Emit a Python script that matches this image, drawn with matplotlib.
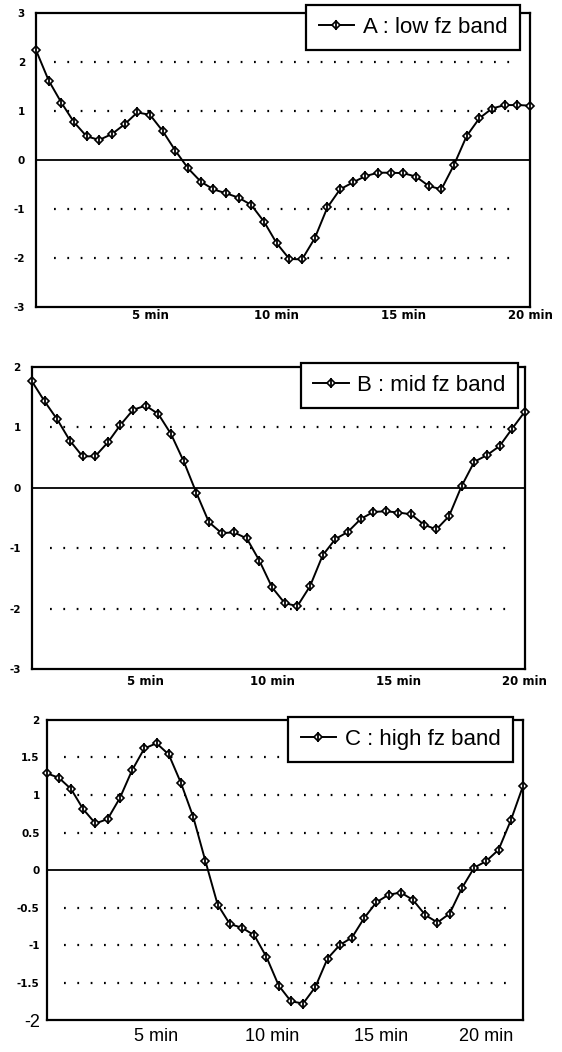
import numpy as np
import matplotlib.pyplot as plt
from matplotlib.legend_handler import HandlerTuple

# time axis: one sample every half minute
minutes = np.arange(1, 41) * 0.5

low_band = [2.24, 1.62, 1.17, 0.77, 0.48, 0.41, 0.53, 0.73, 0.97, 0.92,
            0.59, 0.19, -0.17, -0.44, -0.60, -0.68, -0.77, -0.92, -1.26, -1.70,
            -2.02, -2.03, -1.60, -0.97, -0.60, -0.46, -0.33, -0.26, -0.26, -0.27,
            -0.34, -0.53, -0.60, -0.10, 0.49, 0.85, 1.05, 1.12, 1.12, 1.11]

mid_band = [1.76, 1.43, 1.13, 0.78, 0.52, 0.52, 0.75, 1.04, 1.29, 1.36,
            1.22, 0.89, 0.44, -0.08, -0.57, -0.75, -0.74, -0.84, -1.21, -1.65,
            -1.91, -1.96, -1.63, -1.12, -0.85, -0.73, -0.52, -0.40, -0.39, -0.41,
            -0.44, -0.61, -0.69, -0.47, 0.03, 0.43, 0.54, 0.69, 0.98, 1.26]

high_band = [1.29, 1.23, 1.08, 0.81, 0.62, 0.68, 0.96, 1.33, 1.62, 1.69,
             1.54, 1.16, 0.71, 0.12, -0.46, -0.72, -0.77, -0.87, -1.16, -1.54,
             -1.75, -1.78, -1.56, -1.18, -1.00, -0.90, -0.64, -0.43, -0.33, -0.30,
             -0.40, -0.60, -0.70, -0.58, -0.24, 0.03, 0.12, 0.27, 0.66, 1.12]

labels = ['A : low fz band', 'B : mid fz band', 'C : high fz band']

int_ticks = [-3, -2, -1, 0, 1, 2, 3]
half_ticks = [-2, -1.5, -1, -0.5, 0, 0.5, 1, 1.5, 2]
half_tick_labels = ['-2', '-1.5', '-1', '-0.5', '0', '0.5', '1', '1.5', '2']
x_ticks_ab = [5, 10, 15, 20]
x_ticks_c = [5, 9.75, 14.2, 18.5]
x_tick_labels = ['5 min', '10 min', '15 min', '20 min']

fig = plt.figure(figsize=(5.62, 10.52), dpi=100)

# panel boxes in figure fractions (left, bottom, width, height)
boxes = [
    [0.0641, 0.7082, 0.879, 0.2795],
    [0.0569, 0.3641, 0.877, 0.2871],
    [0.0829, 0.0304, 0.8477, 0.2852],
]
legend_corners = [(0.925, 0.9952), (0.9217, 0.6549), (0.9128, 0.3184)]
ylims = [(-3, 3), (-3, 2), (-2, 2)]
series = [low_band, mid_band, high_band]

small_bold = dict(family='DejaVu Sans', weight='heavy', size=7.5)

for k in range(3):
    ax = fig.add_axes(boxes[k])
    vals = series[k]
    ax.set_xlim(minutes[0], minutes[-1])
    ax.set_ylim(*ylims[k])

    # dotted reference lines, solid zero line
    if k < 2:
        grid_levels = [v for v in int_ticks if v != 0 and ylims[k][0] < v < ylims[k][1]]
    else:
        grid_levels = [v for v in half_ticks if v != 0 and -2 < v < 2]
    ax.hlines(grid_levels, 1.2, 19.4, colors='black', linewidth=1.6,
              linestyles=(0, (0.8, 5.2)), zorder=1)
    ax.axhline(0, color='black', linewidth=1.3, zorder=1)

    l1, = ax.plot(minutes, vals, color='black', linewidth=1.4, marker='D',
                  markersize=3.8, markerfacecolor='white', markeredgecolor='black',
                  markeredgewidth=1.2, zorder=3, clip_on=False)
    l2, = ax.plot(minutes, vals, linestyle='none', marker='|', markersize=7,
                  color='black', markeredgewidth=1.3, zorder=4, clip_on=False)

    for sp in ax.spines.values():
        sp.set_linewidth(1.6)
        sp.set_color('black')
    ax.tick_params(length=0)

    if k < 2:
        yt = [v for v in int_ticks if ylims[k][0] <= v <= ylims[k][1]]
        ax.set_yticks(yt)
        ax.set_yticklabels([str(v) for v in yt], **small_bold)
        ax.tick_params(axis='y', pad=8)
        ax.set_xticks(x_ticks_ab)
        ax.set_xticklabels(x_tick_labels, family='DejaVu Sans', weight='heavy', size=8.5)
        ax.tick_params(axis='x', pad=1.5 if k == 0 else 4)
    else:
        ax.set_yticks(half_ticks)
        ax.set_yticklabels(half_tick_labels, **small_bold)
        ax.tick_params(axis='y', pad=5)
        lab = ax.get_yticklabels()[0]
        lab.set_fontsize(13)
        lab.set_fontweight('normal')
        lab.set_family('Liberation Sans')
        ax.set_xticks(x_ticks_c)
        ax.set_xticklabels(x_tick_labels, family='Liberation Sans', size=13)
        ax.tick_params(axis='x', pad=6)

    leg = ax.legend([(l1, l2)], [labels[k]], handler_map={tuple: HandlerTuple(ndivide=1)},
                    loc='upper right', bbox_to_anchor=legend_corners[k],
                    bbox_transform=fig.transFigure, fancybox=False, framealpha=1,
                    edgecolor='black', borderpad=0.55, handlelength=1.6,
                    handletextpad=0.4, borderaxespad=0,
                    prop={'family': 'Liberation Sans', 'size': 16})
    leg.get_frame().set_linewidth(1.6)
    leg.set_zorder(10)

plt.savefig('out.png', dpi=100)
